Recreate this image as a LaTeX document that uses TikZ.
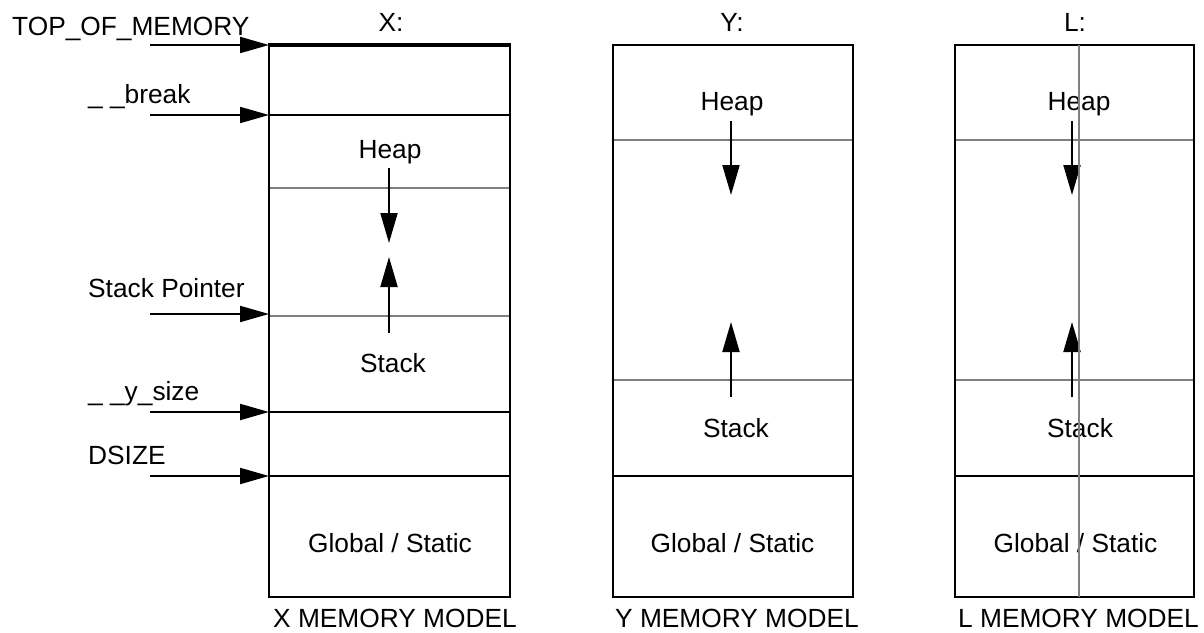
\documentclass[tikz,border=0pt]{standalone}
\usepackage{fontspec}
\setmainfont{Liberation Sans}
\usetikzlibrary{arrows.meta}
\begin{document}
\begin{tikzpicture}[x=1pt,y=-1pt,
  lbl/.style={inner sep=0pt,font=\fontsize{26.3}{31}\selectfont},
  border/.style={draw=black,line width=2pt},
  blk/.style={draw=black,line width=2pt},
  gry/.style={draw=black!50,line width=2pt},
  ptr/.style={draw=black,line width=2pt,-{Triangle[length=29pt,width=16pt]}},
  growarrow/.style={draw=black,line width=2pt,-{Triangle[length=30pt,width=17pt]}}]
\useasboundingbox (0,0) rectangle (1204,632);

% ---------- X box ----------
\draw[gry] (269,188) -- (510,188);
\draw[gry] (269,316) -- (510,316);
\draw[blk] (269,115) -- (510,115);
\draw[blk] (269,412) -- (510,412);
\draw[blk] (269,476) -- (510,476);
\draw[border] (269,45) rectangle (510,597);
\draw[draw=black,line width=3.5pt] (268,45) -- (511,45);

\node[lbl] (xt) at (391,22) {X:};
\node[lbl] (xheap) at (390,152) {Heap};
\node[lbl] (xstack) at (393,363) {Stack};
\node[lbl] (xglob) at (390,543) {Global / Static};
\node[lbl,anchor=base west] (xmm) at (273,627) {X MEMORY MODEL};

\coordinate (xh1) at (389,168); \coordinate (xh2) at (389,243);
\coordinate (xs1) at (389,333); \coordinate (xs2) at (389,257);
\draw[growarrow] (xh1) -- (xh2);
\draw[growarrow] (xs1) -- (xs2);

% left pointers
\node[lbl,anchor=base west] (ptop) at (12,35) {TOP\_OF\_MEMORY};
\node[lbl,anchor=base west] (pbrk) at (88,103) {\_ \_break};
\node[lbl,anchor=base west] (psp) at (88,297) {Stack Pointer};
\node[lbl,anchor=base west] (pys) at (88,400) {\_ \_y\_size};
\node[lbl,anchor=base west] (pds) at (88,464) {DSIZE};

\coordinate (a1) at (150,45);  \coordinate (b1) at (269,45);
\coordinate (a2) at (150,115); \coordinate (b2) at (269,115);
\coordinate (a3) at (150,314); \coordinate (b3) at (269,314);
\coordinate (a4) at (150,412); \coordinate (b4) at (269,412);
\coordinate (a5) at (150,476); \coordinate (b5) at (269,476);
\draw[ptr] (a1) -- (b1);
\draw[ptr] (a2) -- (b2);
\draw[ptr] (a3) -- (b3);
\draw[ptr] (a4) -- (b4);
\draw[ptr] (a5) -- (b5);

% ---------- Y box ----------
\draw[gry] (613,140) -- (853,140);
\draw[gry] (613,380) -- (853,380);
\draw[blk] (613,476) -- (853,476);
\draw[border] (613,45) rectangle (853,597);

\node[lbl] (yt) at (732,22) {Y:};
\node[lbl] (yheap) at (732,104) {Heap};
\node[lbl] (ystack) at (736,428) {Stack};
\node[lbl] (yglob) at (732.5,543) {Global / Static};
\node[lbl,anchor=base west] (ymm) at (615,627) {Y MEMORY MODEL};

\coordinate (yh1) at (731,121); \coordinate (yh2) at (731,195);
\coordinate (ys1) at (731,397); \coordinate (ys2) at (731,322);
\draw[growarrow] (yh1) -- (yh2);
\draw[growarrow] (ys1) -- (ys2);

% ---------- L box ----------
\draw[gry] (955,140) -- (1194,140);
\draw[gry] (955,380) -- (1194,380);
\draw[blk] (955,476) -- (1194,476);
\draw[border] (955,45) rectangle (1194,597);

\node[lbl] (lt) at (1075,22) {L:};
\node[lbl] (lheap) at (1079,104) {Heap};
\node[lbl] (lstack) at (1080,428) {Stack};
\node[lbl] (lglob) at (1075.5,543) {Global / Static};
\node[lbl,anchor=base west] (lmm) at (958,627) {L MEMORY MODEL};

\coordinate (lh1) at (1072,121); \coordinate (lh2) at (1072,195);
\coordinate (ls1) at (1072,397); \coordinate (ls2) at (1072,322);
\draw[growarrow] (lh1) -- (lh2);
\draw[growarrow] (ls1) -- (ls2);

\coordinate (lv1) at (1079,45); \coordinate (lv2) at (1079,597);
\draw[gry] (lv1) -- (lv2);
\end{tikzpicture}
\end{document}
